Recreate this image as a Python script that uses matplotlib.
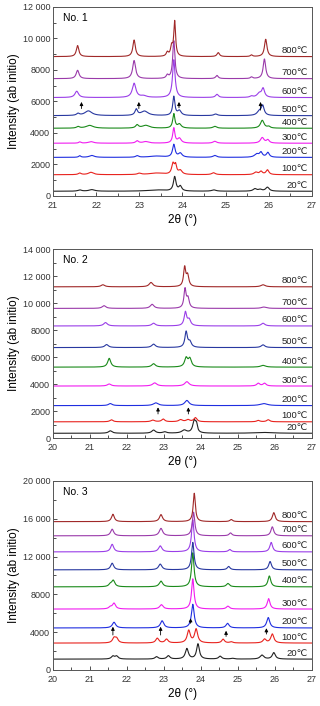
import numpy as np
import matplotlib
matplotlib.use('Agg')
import matplotlib.pyplot as plt
from matplotlib.ticker import MultipleLocator, FuncFormatter
from matplotlib.transforms import offset_copy

# Etiquetas de temperatura (de abajo hacia arriba)
temps = ['20℃', '100℃', '200℃', '300℃', '400℃', '500℃', '600℃', '700℃', '800℃']
colors = ['#222222', '#e8231e', '#1f2ee0', '#f01cf0', '#1a8a1a',
          '#2838a0', '#9a3ee8', '#9a3aaa', '#a02828']

# ---- Muestra No. 1 : línea base y picos (centro, altura, semi-ancho) ----
p1_base = [300, 1350, 2450, 3350, 4300, 5100, 6250, 7450, 8850]
p1_peaks = [
    [(21.62, 80, .05), (21.9, 100, .08), (23.4, 80, .25), (23.82, 900, .035), (23.95, 300, .04),
     (24.73, 80, .06), (25.68, 150, .05), (25.8, 100, .05), (25.97, 250, .05)],
    [(21.62, 100, .04), (21.88, 150, .07), (23.0, 80, .05), (23.4, 100, .2), (23.78, 650, .035),
     (23.84, 550, .03), (23.95, 250, .05), (24.72, 120, .05), (25.7, 150, .05), (25.82, 200, .04),
     (25.97, 300, .04)],
    [(21.62, 100, .03), (21.9, 120, .07), (22.95, 100, .04), (23.4, 80, .2), (23.8, 800, .035),
     (23.95, 250, .05), (24.75, 120, .05), (25.72, 200, .06), (25.82, 300, .04), (25.98, 300, .04)],
    [(21.62, 80, .03), (21.88, 100, .07), (22.95, 150, .04), (23.15, 100, .08), (23.8, 950, .03),
     (23.93, 300, .05), (24.75, 120, .05), (25.85, 350, .05), (25.98, 200, .04)],
    [(21.58, 100, .04), (21.85, 180, .1), (22.95, 200, .04), (23.15, 180, .1), (23.8, 900, .03),
     (23.93, 250, .05), (24.75, 120, .05), (25.85, 500, .05), (26.0, 100, .04)],
    [(21.58, 120, .04), (21.82, 300, .1), (22.93, 380, .035), (23.12, 280, .1), (23.8, 1200, .03),
     (23.93, 300, .05), (24.77, 100, .05), (25.78, 250, .06), (25.86, 600, .04)],
    [(21.55, 400, .05), (22.88, 900, .05), (23.1, 100, .08), (23.8, 2400, .035), (24.8, 200, .04),
     (25.6, 80, .04), (25.78, 250, .06), (25.87, 550, .04)],
    [(21.57, 530, .04), (22.88, 1150, .04), (23.65, 200, .03), (23.8, 2400, .03), (24.8, 200, .035),
     (25.6, 100, .03), (25.9, 1250, .035)],
    [(21.57, 700, .035), (22.88, 1050, .035), (23.65, 250, .03), (23.75, 600, .03), (23.82, 2200, .025),
     (24.83, 250, .035), (25.6, 100, .03), (25.93, 1100, .035)],
]
p1_arrows = [(21.66, 5550, 5970), (22.99, 5550, 5970), (23.92, 5600, 5970), (25.81, 5450, 5970)]

# ---- Muestra No. 2 ----
p2_base = [350, 1200, 2400, 3850, 5250, 6700, 8300, 9600, 11200]
p2_peaks = [
    [(21.55, 180, .06), (22.72, 230, .06), (23.02, 100, .06), (23.55, 220, .08), (23.82, 900, .05),
     (23.88, 500, .03), (25.7, 60, .3)],
    [(21.58, 150, .05), (22.7, 120, .06), (22.98, 200, .05), (23.45, 150, .06), (23.65, 150, .06),
     (23.85, 300, .05), (25.55, 100, .05), (25.82, 150, .05)],
    [(21.55, 150, .06), (22.78, 200, .08), (23.62, 380, .07), (25.7, 150, .12)],
    [(21.52, 150, .06), (22.75, 230, .07), (23.62, 320, .07), (25.55, 200, .05), (25.72, 200, .05)],
    [(21.52, 650, .05), (22.72, 250, .06), (23.6, 650, .05), (23.7, 600, .05), (25.68, 130, .08)],
    [(21.45, 220, .06), (22.72, 250, .06), (23.6, 1150, .04), (23.7, 400, .05), (25.68, 200, .06)],
    [(21.42, 250, .06), (22.72, 200, .06), (23.58, 1000, .04), (23.68, 450, .05), (25.68, 200, .06)],
    [(21.38, 200, .06), (22.68, 300, .06), (23.57, 1400, .035), (23.65, 700, .04), (25.7, 100, .08)],
    [(21.35, 150, .06), (22.65, 320, .06), (23.56, 1400, .035), (23.64, 800, .04), (25.68, 150, .07)],
]
p2_arrows = [(22.84, 1780, 2270), (23.66, 1780, 2270)]

# ---- Muestra No. 3 ----
p3_base = [1150, 2850, 4450, 6450, 8800, 10600, 12500, 14200, 15700]
p3_peaks = [
    [(21.62, 300, .05), (21.72, 300, .05), (22.8, 250, .05), (23.12, 350, .05), (23.62, 1100, .05),
     (23.92, 1600, .045), (24.52, 300, .05), (24.85, 80, .05), (25.65, 420, .06), (25.97, 680, .05)],
    [(21.65, 500, .05), (21.72, 450, .05), (22.82, 500, .05), (23.07, 400, .05), (23.67, 1300, .05),
     (23.87, 1450, .05), (24.6, 400, .045), (24.82, 120, .05), (25.72, 400, .05), (25.93, 950, .05)],
    [(21.65, 600, .055), (22.95, 750, .055), (23.78, 2500, .045), (24.72, 480, .05), (25.82, 1100, .05)],
    [(21.55, 200, .05), (21.65, 600, .05), (22.93, 460, .055), (23.78, 3200, .04), (24.73, 300, .05),
     (25.83, 1100, .045)],
    [(21.55, 250, .05), (21.63, 650, .05), (22.92, 600, .055), (23.78, 3600, .04), (24.73, 350, .05),
     (25.85, 1150, .045)],
    [(21.6, 700, .05), (22.9, 600, .055), (23.78, 2900, .04), (24.75, 350, .045), (25.87, 880, .045)],
    [(21.6, 800, .05), (22.9, 630, .055), (23.78, 3400, .04), (24.78, 250, .045), (25.9, 1000, .045)],
    [(21.6, 700, .05), (22.92, 780, .055), (23.8, 2500, .04), (24.8, 300, .045), (25.93, 950, .045)],
    [(21.62, 780, .045), (22.92, 740, .05), (23.82, 3000, .035), (24.82, 220, .045), (25.97, 950, .045)],
]
p3_arrows = [(21.62, 3700, 4580), (22.91, 3700, 4580), (23.72, 4940, 5470),
             (24.68, 3550, 4150), (25.77, 3800, 4420)]

FONT = ['Liberation Sans', 'DejaVu Sans']
plt.rcParams['font.family'] = FONT
plt.rcParams['axes.unicode_minus'] = False


def profile(x, base, peaks):
    # Suma de perfiles lorentzianos sobre la línea base
    y = np.full_like(x, float(base))
    for c, h, w in peaks:
        y += h / (1 + ((x - c) / w) ** 2)
    return y


def fmt_y(v, pos):
    v = int(round(v))
    if v >= 10000:
        return f"{v // 1000} {v % 1000:03d}"
    return f"{v}"


fig = plt.figure(figsize=(3.2, 7.06), dpi=100)

panels = [
    ('No. 1', p1_base, p1_peaks, p1_arrows, (21, 27), 12000, 2000, 1000, 0.7224),
    ('No. 2', p2_base, p2_peaks, p2_arrows, (20, 27), 14000, 2000, 1000, 0.3796),
    ('No. 3', p3_base, p3_peaks, p3_arrows, (20, 27), 20000, 4000, 2000, 0.0510),
]

for name, bases, peaks, arrows, xlim, ymax, ymaj, ymin, bottom in panels:
    ax = fig.add_axes([0.1656, bottom, 0.809, 0.2677])
    x = np.linspace(xlim[0], xlim[1], 4000)
    for i in range(len(temps)):
        ax.plot(x, profile(x, bases[i], peaks[i]), color=colors[i], lw=0.8)
        tr = offset_copy(ax.get_yaxis_transform(), fig=fig, x=0, y=6, units='dots')
        ax.text(0.985, bases[i], temps[i], transform=tr, ha='right', va='center',
                fontsize=6.8, color='#222222', family=FONT)
    for xa, y0, y1 in arrows:
        ax.annotate('', xy=(xa, y1), xytext=(xa, y0),
                    arrowprops=dict(arrowstyle='-|>', color='k', lw=0.6,
                                    mutation_scale=5, shrinkA=0, shrinkB=0))
    ax.set_xlim(*xlim)
    ax.set_ylim(0, ymax)
    ax.xaxis.set_major_locator(MultipleLocator(1))
    ax.xaxis.set_minor_locator(MultipleLocator(0.5))
    ax.yaxis.set_major_locator(MultipleLocator(ymaj))
    ax.yaxis.set_minor_locator(MultipleLocator(ymin))
    ax.yaxis.set_major_formatter(FuncFormatter(fmt_y))
    ax.tick_params(which='both', direction='in', labelsize=6.5, width=0.6, colors='#333333')
    ax.tick_params(axis='y', pad=2)
    ax.tick_params(axis='x', pad=3.5)
    ax.tick_params(which='major', length=3)
    ax.tick_params(which='minor', length=2)
    for s in ax.spines.values():
        s.set_linewidth(0.7)
        s.set_color('#555555')
    ax.set_xlabel('2θ (°)', fontsize=8.5, labelpad=3)
    ax.set_ylabel('Intensity (ab initio)', fontsize=8.5, labelpad=2)
    ax.text(0.04, 0.94, name, transform=ax.transAxes, fontsize=7.5, va='center', ha='left')

fig.savefig('out.png', dpi=100)
